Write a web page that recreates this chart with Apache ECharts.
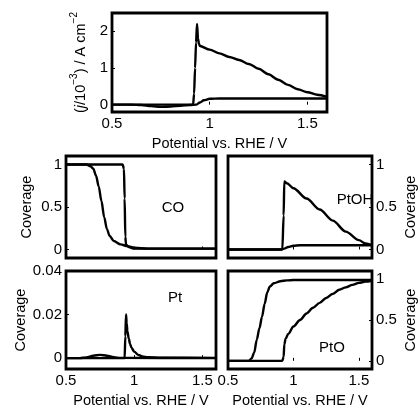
<!DOCTYPE html>
<html>
<head>
<meta charset="utf-8">
<script src="https://cdn.jsdelivr.net/npm/echarts@6/dist/echarts.min.js"></script>
<style>
  html, body { margin: 0; padding: 0; background: #fff; }
  #main { width: 419px; height: 409px; }
</style>
</head>
<body>
<div id="main"></div>
<script>
/*----------------------------- data -----------------------------*/
// current density (j / 10^-3 A cm^-2)
var jSpikeV = [0.5, 0.9, 0.915, 0.92, 0.925, 0.93, 0.935, 0.94, 0.945, 0.95, 1.0, 1.05, 1.1, 1.15, 1.2, 1.25, 1.3, 1.35, 1.4, 1.45, 1.5, 1.55, 1.6];
var jSpike  = [0, 0, 0, 0.3, 1.0, 1.7, 2.2, 1.8, 1.66, 1.6, 1.5, 1.4, 1.3, 1.22, 1.11, 0.98, 0.83, 0.68, 0.54, 0.42, 0.34, 0.27, 0.21];
var jFlatV  = [0.5, 0.6, 0.65, 0.7, 0.75, 0.8, 0.85, 0.9, 0.93, 0.95, 0.97, 1.0, 1.05, 1.2, 1.6];
var jFlat   = [0, 0, -0.01, -0.04, -0.06, -0.05, -0.03, -0.01, 0, 0.06, 0.12, 0.16, 0.17, 0.17, 0.17];

// CO coverage
var coSlowV = [0.5, 0.65, 0.68, 0.7, 0.72, 0.74, 0.76, 0.78, 0.8, 0.82, 0.85, 0.9, 0.95, 1.0, 1.1, 1.6];
var coSlow  = [1, 1, 0.98, 0.95, 0.87, 0.74, 0.57, 0.38, 0.24, 0.16, 0.1, 0.06, 0.04, 0.02, 0.01, 0.01];
var coFastV = [0.5, 0.915, 0.925, 0.93, 0.935, 0.94, 0.96, 1.0, 1.6];
var coFast  = [1, 1, 0.95, 0.6, 0.15, 0.06, 0.03, 0.01, 0.01];

// PtOH coverage
var ohPeakV = [0.5, 0.915, 0.925, 0.93, 0.95, 1.0, 1.1, 1.2, 1.3, 1.4, 1.5, 1.55, 1.6];
var ohPeak  = [0, 0, 0.4, 0.8, 0.78, 0.72, 0.6, 0.47, 0.34, 0.21, 0.11, 0.07, 0.05];
var ohLowV  = [0.5, 0.9, 0.93, 0.96, 1.0, 1.05, 1.6];
var ohLow   = [0, 0, 0.01, 0.03, 0.045, 0.05, 0.05];

// free Pt coverage
var ptBumpV  = [0.5, 0.6, 0.65, 0.7, 0.75, 0.8, 0.85, 0.9, 1.6];
var ptBump   = [0, 0, 0.0003, 0.0011, 0.0015, 0.0011, 0.0004, 0.0001, 0];
var ptSpikeV = [0.5, 0.93, 0.935, 0.94, 0.945, 0.95, 0.96, 0.97, 0.98, 1.0, 1.03, 1.06, 1.1, 1.2, 1.6];
var ptSpike  = [0, 0, 0.01, 0.02, 0.016, 0.0125, 0.009, 0.0065, 0.0048, 0.003, 0.0015, 0.0008, 0.0004, 0.0002, 0.0001];

// PtO coverage
var oxFastV = [0.5, 0.66, 0.68, 0.7, 0.72, 0.74, 0.76, 0.78, 0.8, 0.82, 0.85, 0.9, 0.95, 1.0, 1.6];
var oxFast  = [0, 0, 0.03, 0.1, 0.26, 0.4, 0.54, 0.7, 0.84, 0.91, 0.95, 0.975, 0.985, 0.99, 0.99];
var oxSlowV = [0.5, 0.915, 0.925, 0.93, 0.94, 0.96, 1.0, 1.05, 1.1, 1.15, 1.2, 1.25, 1.3, 1.35, 1.4, 1.45, 1.5, 1.55, 1.6];
var oxSlow  = [0, 0, 0.05, 0.2, 0.27, 0.33, 0.42, 0.5, 0.58, 0.65, 0.71, 0.77, 0.82, 0.87, 0.9, 0.93, 0.955, 0.97, 0.98];

var xTicks = [0.5, 1, 1.5];
var jTicks = [0, 1, 2];
var covTicks = [0, 0.5, 1];
var ptTicks = [0, 0.02, 0.04];

/*----------------------------- helpers -----------------------------*/
var FONT = 'Liberation Sans, Arial, sans-serif';

function pairs(xs, ys) {
    return xs.map(function (x, i) { return [x, ys[i]]; });
}

function grid(left, top, width, height) {
    return { left: left, top: top, width: width, height: height,
             show: true, borderColor: '#000', borderWidth: 2.8, backgroundColor: 'transparent' };
}

function xAxis(idx, showLabel) {
    return {
        type: 'value', gridIndex: idx, min: 0.5, max: 1.6,
        axisLine: { show: false },
        axisTick: { show: true, inside: true, length: 3, customValues: xTicks, lineStyle: { color: '#000' } },
        axisLabel: { show: showLabel, customValues: xTicks, color: '#000', fontSize: 15, fontFamily: FONT, margin: 4 },
        splitLine: { show: false },
        name: showLabel ? 'Potential vs. RHE / V' : '',
        nameLocation: 'middle', nameGap: 24,
        nameTextStyle: { color: '#000', fontSize: 14.5, fontFamily: FONT }
    };
}

function yAxis(idx, min, max, ticks, pos, name, gap) {
    return {
        type: 'value', gridIndex: idx, min: min, max: max, position: pos,
        axisLine: { show: false },
        axisTick: { show: true, inside: true, length: 3, customValues: ticks, lineStyle: { color: '#000' } },
        axisLabel: { customValues: ticks, color: '#000', fontSize: 15, fontFamily: FONT, margin: 4 },
        splitLine: { show: false },
        name: name, nameLocation: 'middle', nameGap: gap, nameRotate: 90,
        nameTextStyle: { color: '#000', fontSize: 14.5, fontFamily: FONT }
    };
}

function line(idx, xs, ys) {
    return {
        type: 'line', xAxisIndex: idx, yAxisIndex: idx,
        data: pairs(xs, ys), showSymbol: false, smooth: 0.3, smoothMonotone: 'x',
        lineStyle: { color: '#000', width: 2.4 }, animation: false
    };
}

// panel tag, centred on (x, y)
function tag(text, x, y) {
    return { type: 'text', x: x, y: y,
             style: { text: text, fill: '#000', font: '15px ' + FONT, align: 'center', verticalAlign: 'middle' } };
}

/*----------------------------- main -----------------------------*/
var myChart = echarts.init(document.getElementById('main'));

var jAxis = yAxis(0, -0.2, 2.5, jTicks, 'left', '{a|(}{i|j}{a|/10}{s|−3}{a|) / A cm}{s|−2}', 15);
jAxis.nameTextStyle.rich = {
    a: { fontSize: 14.5, fontFamily: FONT, color: '#000', lineHeight: 20, verticalAlign: 'bottom' },
    i: { fontSize: 14.5, fontFamily: FONT, color: '#000', fontStyle: 'italic', lineHeight: 20, verticalAlign: 'bottom' },
    s: { fontSize: 10, fontFamily: FONT, color: '#000', lineHeight: 20, verticalAlign: 'top' }
};

var option = {
    animation: false,
    grid: [
        grid(112, 13, 215, 99),   // current
        grid(66, 156, 150, 102),  // CO
        grid(228, 156, 150, 102), // PtOH
        grid(66, 271, 150, 102),  // Pt
        grid(228, 271, 150, 102)  // PtO
    ],
    xAxis: [xAxis(0, true), xAxis(1, false), xAxis(2, false), xAxis(3, true), xAxis(4, true)],
    yAxis: [
        jAxis,
        yAxis(1, -0.1, 1.1, covTicks, 'left', 'Coverage', 32),
        yAxis(2, -0.1, 1.1, covTicks, 'right', 'Coverage', 31),
        yAxis(3, -0.005, 0.04, ptTicks, 'left', 'Coverage', 32),
        yAxis(4, -0.1, 1.1, covTicks, 'right', 'Coverage', 31)
    ],
    series: [
        line(0, jFlatV, jFlat), line(0, jSpikeV, jSpike),
        line(1, coSlowV, coSlow), line(1, coFastV, coFast),
        line(2, ohLowV, ohLow), line(2, ohPeakV, ohPeak),
        line(3, ptBumpV, ptBump), line(3, ptSpikeV, ptSpike),
        line(4, oxFastV, oxFast), line(4, oxSlowV, oxSlow)
    ],
    graphic: [
        tag('CO', 173, 208),
        tag('PtOH', 355, 200),
        tag('Pt', 175, 298),
        tag('PtO', 332, 348)
    ]
};

myChart.setOption(option);
</script>
</body>
</html>
